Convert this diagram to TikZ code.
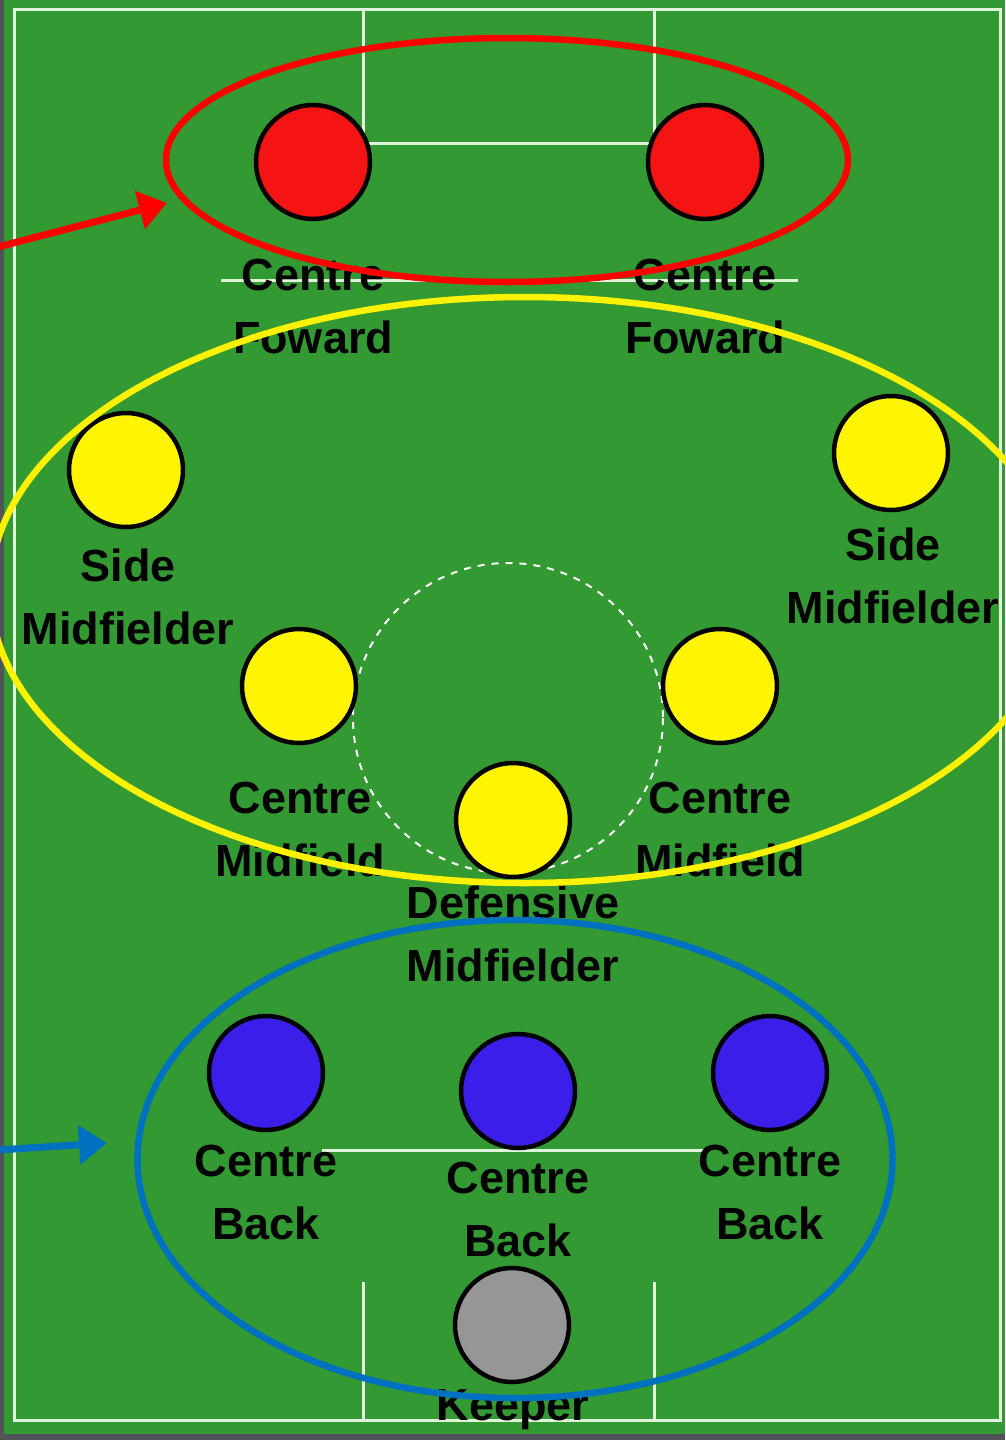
\documentclass[tikz,border=0pt]{standalone}
\usepackage{fontspec}
\setmainfont{Liberation Sans}
\usetikzlibrary{arrows.meta,shapes.geometric}
\definecolor{pitch}{RGB}{51,153,51}
\definecolor{chalk}{RGB}{225,245,220}
\definecolor{edge}{RGB}{80,84,88}
\definecolor{fwdred}{RGB}{245,20,20}
\definecolor{midyel}{RGB}{255,245,0}
\definecolor{backblue}{RGB}{60,30,235}
\definecolor{keepgray}{RGB}{150,150,150}
\definecolor{ringblue}{RGB}{0,112,192}
\newcommand{\lb}{\fontsize{45}{63}\selectfont\bfseries}

\begin{document}
\begin{tikzpicture}[
  x=1pt, y=-1pt,
  line/.style={draw=chalk, line width=3pt},
  player/.style={circle, draw=black, line width=4.5pt, minimum size=114pt, inner sep=0pt},
  plabel/.style={font=\lb, align=center, inner sep=0pt, text=black},
  ring/.style={ellipse, draw, line width=6.5pt, inner sep=0pt},
  ptr/.style={-{Triangle[length=28pt,width=38pt]}, line width=7pt},
]
  \useasboundingbox (0,0) rectangle (1005,1440);
  \fill[edge] (0,0) rectangle (1005,1440);
  \fill[pitch] (4,0) rectangle (1005,1434);

  % pitch markings
  \draw[line] (14,9) rectangle (1000,1420);
  \draw[line] (363,9) -- (363,143) -- (654,143) -- (654,9);
  \draw[line] (221,280) -- (798,280);
  \draw[line] (322,1150) -- (705,1150);
  \draw[line] (363,1420) -- (363,1282);
  \draw[line] (654,1420) -- (654,1282);
  \draw[draw=white, line width=2pt, dash pattern=on 7pt off 7pt] (508,718) circle[radius=155];

  % players
  \node[player, fill=fwdred] (cfl) at (313,162) {};
  \node[player, fill=fwdred] (cfr) at (705,162) {};
  \node[player, fill=midyel] (sml) at (126,470) {};
  \node[player, fill=midyel] (smr) at (891,453) {};
  \node[player, fill=midyel] (cml) at (299,686) {};
  \node[player, fill=midyel] (cmr) at (720,686) {};
  \node[player, fill=midyel] (dm)  at (513,820) {};
  \node[player, fill=backblue] (cbl) at (266,1073) {};
  \node[player, fill=backblue] (cbm) at (518,1091) {};
  \node[player, fill=backblue] (cbr) at (770,1073) {};
  \node[player, fill=keepgray] (gk)  at (512,1325) {};

  % names
  \node[plabel] (ncfl) at (313,307) {Centre\\Foward};
  \node[plabel] (ncfr) at (705,307) {Centre\\Foward};
  \node[plabel] (nsml) at (128,597) {Side\\Midfielder};
  \node[plabel] (nsmr) at (893,576) {Side\\Midfielder};
  \node[plabel] (ncml) at (300,829) {Centre\\Midfield};
  \node[plabel] (ncmr) at (720,829) {Centre\\Midfield};
  \node[plabel] (ndm)  at (513,934) {Defensive\\Midfielder};
  \node[plabel] (ncbl) at (266,1192) {Centre\\Back};
  \node[plabel] (ncbm) at (518,1209) {Centre\\Back};
  \node[plabel] (ncbr) at (770,1192) {Centre\\Back};
  \node[plabel] (ngk)  at (513,1410) {Keeper};

  % unit rings
  \node[ring, draw=red, minimum width=682pt, minimum height=244pt] (fwdring) at (507,160) {};
  \node[ring, draw=yellow, minimum width=1070pt, minimum height=586pt] (midring) at (525,590) {};
  \node[ring, draw=ringblue, minimum width=755pt, minimum height=478pt] (backring) at (515,1159) {};

  % pointers
  \coordinate (fwdtail) at (-2,247);
  \coordinate (fwdtip) at (167,203);
  \coordinate (backtail) at (-2,1150);
  \coordinate (backtip) at (107,1143);
  \draw[ptr, red] (fwdtail) -- (fwdtip);
  \draw[ptr, ringblue] (backtail) -- (backtip);
\end{tikzpicture}
\end{document}
